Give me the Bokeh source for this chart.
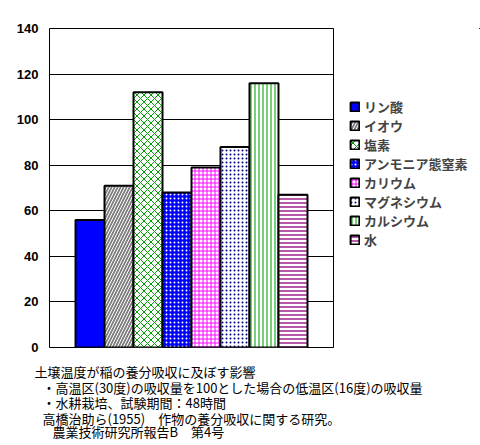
from bokeh.plotting import figure
from bokeh.models import (ColumnDataSource, Range1d, FixedTicker, Legend, LegendItem)
from bokeh.layouts import column, row
from bokeh.core.properties import value
from bokeh.embed import file_html
from bokeh.resources import INLINE

# ---- data ----
categories = ["リン酸", "イオウ", "塩素", "アンモニア態窒素", "カリウム", "マグネシウム", "カルシウム", "水"]
values = [56, 71, 112, 68, 79, 88, 116, 67]
y_ticks = [0, 20, 40, 60, 80, 100, 120, 140]
notes = [
    "土壌温度が稲の養分吸収に及ぼす影響",
    "・高温区(30度)の吸収量を100とした場合の低温区(16度)の吸収量",
    "・水耕栽培、試験期間：48時間",
    "高橋治助ら(1955)　作物の養分吸収に関する研究。",
    "農業技術研究所報告B　第4号",
]

# ---- styles ----
fills = ["#0000FF", "#808080", "#FFFFFF", "#0000FF", "#FFFFFF", "#FFFFFF", "#FFFFFF", "#FFFFFF"]
hatches = [" ", "/", "x", ".", "+", ".", "|", "-"]
hatch_colors = ["#FFFFFF", "#FFFFFF", "#00A000", "#FFFFFF", "#FF00FF", "#000080", "#20B020", "#A0208C"]
hatch_scales = [4, 6, 7, 4, 4, 4, 4, 4]
hatch_weights = [1, 1, 1, 0.5, 1, 0.5, 1.2, 1.5]

src = ColumnDataSource(dict(
    x=list(range(len(categories))), top=values, cat=categories,
    fill=fills, hp=hatches, hc=hatch_colors, hs=hatch_scales, hw=hatch_weights,
))

bar_style = dict(x="x", top="top", width=1.0, source=src, fill_color="fill",
                 line_color="black", line_width=2,
                 hatch_pattern="hp", hatch_color="hc", hatch_scale="hs", hatch_weight="hw")

# ---- main chart ----
p = figure(width=340, height=355, output_backend="svg", toolbar_location=None,
           x_range=Range1d(-1.397, 8.397), y_range=Range1d(0, 140),
           min_border_left=49, min_border_right=7, min_border_top=28, min_border_bottom=8)
p.vbar(**bar_style)

p.xaxis.visible = False
p.xgrid.visible = False
p.ygrid.grid_line_color = "black"
p.ygrid.grid_line_width = 1
p.yaxis.ticker = FixedTicker(ticks=y_ticks)
p.yaxis.axis_line_color = None
p.yaxis.major_tick_line_color = None
p.yaxis.minor_tick_line_color = None
p.yaxis.major_tick_out = 0
p.yaxis.major_tick_in = 0
p.yaxis.major_label_standoff = 11
p.yaxis.major_label_text_font = "Liberation Sans"
p.yaxis.major_label_text_font_style = "bold"
p.yaxis.major_label_text_font_size = "13px"
p.yaxis.major_label_text_color = "black"
p.outline_line_color = "black"
p.outline_line_width = 1
p.background_fill_color = "white"
p.border_fill_color = "white"

# ---- legend panel (same bars, ranges set so only the legend shows) ----
lg = figure(width=140, height=355, output_backend="svg", toolbar_location=None,
            x_range=Range1d(-100, -99), y_range=Range1d(-100, -99),
            min_border_left=0, min_border_right=0, min_border_top=0, min_border_bottom=0)
lr = lg.vbar(**bar_style)
lg.axis.visible = False
lg.grid.visible = False
lg.outline_line_color = None
lg.background_fill_color = "white"
lg.border_fill_color = "white"

items = [LegendItem(label=c, renderers=[lr], index=i) for i, c in enumerate(categories)]
legend = Legend(items=items, location=(9, 98), padding=0, margin=0,
                border_line_color=None, background_fill_alpha=0,
                glyph_width=11, glyph_height=11, label_standoff=4,
                label_height=15, spacing=0,
                label_text_font="Noto Sans CJK JP", label_text_font_style="bold",
                label_text_font_size="13px", label_text_line_height=0.8)
lg.add_layout(legend)

# ---- notes panel (page pixel coordinates) ----
note_x = [34, 42, 42, 42, 52]
note_y = [370.5, 386.5, 402, 418, 431]
q = figure(width=480, height=90, output_backend="svg", toolbar_location=None,
           x_range=Range1d(0, 480), y_range=Range1d(445, 355),
           min_border_left=0, min_border_right=0, min_border_top=0, min_border_bottom=0)
q.axis.visible = False
q.grid.visible = False
q.outline_line_color = None
q.background_fill_color = "white"
q.border_fill_color = "white"
q.text(x=note_x, y=note_y, text=notes, text_font=value("Noto Sans CJK JP"),
       text_font_size="13px", text_baseline="middle", text_align="left", text_color="black")

layout = column(row(p, lg, spacing=0), q, spacing=0)
open("out.html", "w").write(file_html(layout, INLINE))
